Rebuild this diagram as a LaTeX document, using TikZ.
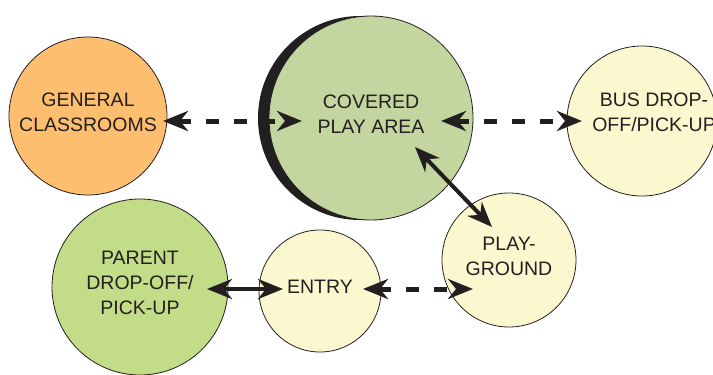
\documentclass[tikz,border=0pt]{standalone}
\usepackage{fontspec}
\setmainfont{Liberation Sans}
\usetikzlibrary{arrows.meta,positioning,shadows}
\definecolor{ink}{HTML}{231F20}
\definecolor{classorange}{HTML}{FDBF6F}
\definecolor{playgreen}{HTML}{C3D69F}
\definecolor{parentgreen}{HTML}{C3DC88}
\definecolor{paleyellow}{HTML}{FBF8D0}

\begin{document}
\begin{tikzpicture}[x=1pt,y=-1pt,on grid,
    area/.style={circle,draw=ink,line width=0.8pt,inner sep=0pt,outer sep=0pt,text depth=8pt,
      text=ink,align=center,font=\fontsize{19.5}{25}\selectfont},
    lbl/.style={text=ink,align=center,inner sep=0pt,font=\fontsize{19.5}{25}\selectfont},
    link/.style={<->,>={Stealth[length=25pt,width=20pt,inset=8pt]},draw=ink},
    walk/.style={link,line width=4pt},
    ride/.style={link,line width=5pt,dash pattern=on 13pt off 15pt}]
    \useasboundingbox (0,0) rectangle (713,375);

    \node[area,fill=classorange,minimum size=158pt] (gen) at (88,116) {GENERAL\\CLASSROOMS};
    \node[area,fill=playgreen,minimum size=204pt,
          drop shadow={shadow xshift=-11pt,shadow yshift=0pt,fill=ink,opacity=1}]
          (cov) [below right=2pt and 283pt of gen] {COVERED\\PLAY AREA};
    \node[area,fill=paleyellow,minimum size=150pt] (bus) [below right=3pt and 271pt of cov] {};
    \node[lbl] (busl) at ([shift={(12pt,9pt)}]bus) {BUS DROP-\\OFF/PICK-UP};
    \node[area,fill=parentgreen,minimum size=176pt] (par) [below right=171pt and 52pt of gen] {PARENT\\DROP-OFF/\\PICK-UP};
    \node[area,fill=paleyellow,minimum size=122pt] (ent) [below right=4pt and 180pt of par] {ENTRY};
    \node[area,fill=paleyellow,minimum size=134pt] (pg) [above right=31pt and 189pt of ent] {PLAY-\\GROUND};

    \draw[ride] ([shift={(75pt,-5pt)}]gen.center) -- ([shift={(-69pt,-3pt)}]cov.center);
    \draw[ride] ([shift={(70pt,-3pt)}]cov.center) -- ([shift={(-60pt,0pt)}]bus.center);
    \draw[ride] ([shift={(43pt,2pt)}]ent.center) -- ([shift={(-36pt,-29pt)}]pg.center);
    \draw[walk] ([shift={(44pt,-29pt)}]cov.center) -- ([shift={(-17pt,33pt)}]pg.center);
    \draw[walk] ([shift={(67pt,-2pt)}]par.center) -- ([shift={(-37pt,2pt)}]ent.center);
\end{tikzpicture}
\end{document}
